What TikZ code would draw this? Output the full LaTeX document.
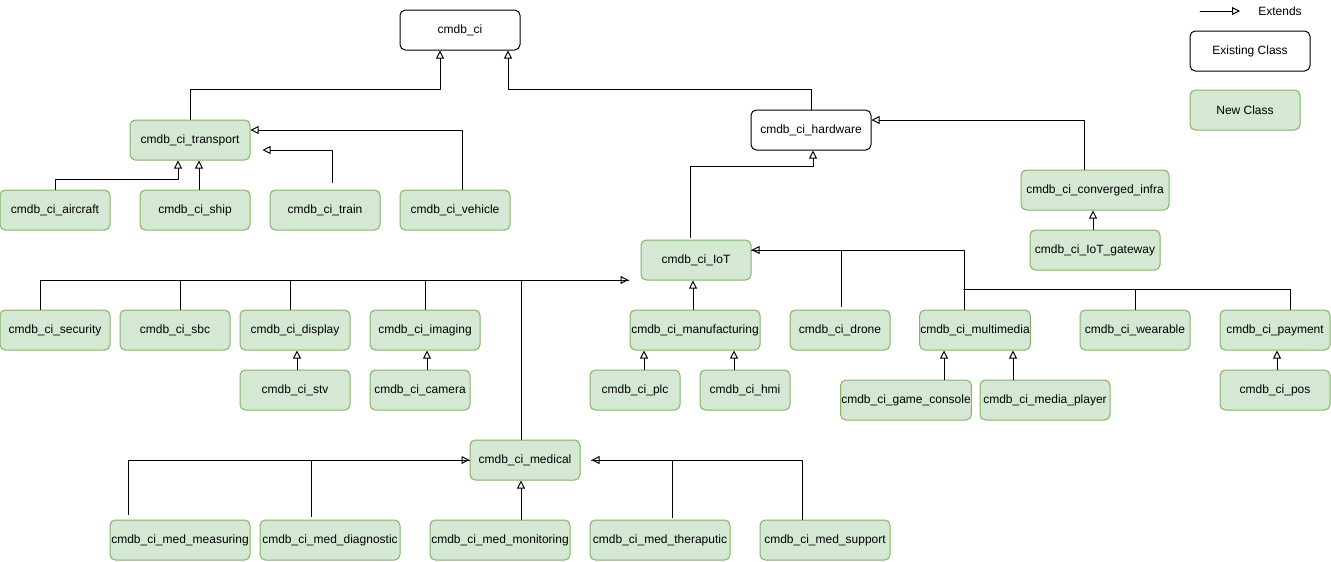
\documentclass[tikz,border=0pt]{standalone}
\usepackage{fontspec}
\setmainfont{Liberation Sans}
\usetikzlibrary{calc,arrows.meta}
\definecolor{newfill}{RGB}{213,232,212}
\definecolor{newdraw}{RGB}{130,179,102}
\tikzset{
    lab/.style={
        font=\fontsize{9}{11}\selectfont
    }
}

\begin{document}
\begin{tikzpicture}[x=0.75pt,y=-0.75pt, line cap=round, line join=round]

\tikzset{
  main/.style={draw=black, line width=0.75pt},
  ext/.style={main, -{Triangle[open, length=6pt, width=6pt]}},
  oldcls/.style={lab, rectangle, rounded corners=4pt, draw=black, fill=white, line width=0.75pt, minimum height=30pt, inner sep=0.5pt},
  newcls/.style={oldcls, draw=newdraw, fill=newfill},
  wd/.style={minimum width=#1*0.75pt},
}

\useasboundingbox (0,0) rectangle (1331,561);

% existing classes
\node[oldcls, wd=120] (ci) at (460,30) {cmdb\_ci};
\node[oldcls, wd=120] (hw) at (811,130) {cmdb\_ci\_hardware};

% transport branch
\node[newcls, wd=120] (transport) at (190,140) {cmdb\_ci\_transport};
\node[newcls, wd=110] (aircraft) at (55,210) {cmdb\_ci\_aircraft};
\node[newcls, wd=110] (ship) at (195,210) {cmdb\_ci\_ship};
\node[newcls, wd=110] (train) at (325,210) {cmdb\_ci\_train};
\node[newcls, wd=110] (vehicle) at (455,210) {cmdb\_ci\_vehicle};

% hardware branch
\node[newcls, wd=148] (conv) at (1095,190) {cmdb\_ci\_converged\_infra};
\node[newcls, wd=130] (gw) at (1095,250) {cmdb\_ci\_IoT\_gateway};
\node[newcls, wd=110] (iot) at (696,260) {cmdb\_ci\_IoT};

% IoT children
\node[newcls, wd=110] (sec) at (55,330) {cmdb\_ci\_security};
\node[newcls, wd=110] (sbc) at (175,330) {cmdb\_ci\_sbc};
\node[newcls, wd=110] (disp) at (295,330) {cmdb\_ci\_display};
\node[newcls, wd=110] (imag) at (425,330) {cmdb\_ci\_imaging};
\node[newcls, wd=130] (manuf) at (695,330) {cmdb\_ci\_manufacturing};
\node[newcls, wd=100] (drone) at (840,330) {cmdb\_ci\_drone};
\node[newcls, wd=110] (mm) at (975,330) {cmdb\_ci\_multimedia};
\node[newcls, wd=110] (wear) at (1135,330) {cmdb\_ci\_wearable};
\node[newcls, wd=110] (pay) at (1275,330) {cmdb\_ci\_payment};

% third level
\node[newcls, wd=110] (stv) at (295,390) {cmdb\_ci\_stv};
\node[newcls, wd=100] (cam) at (420,390) {cmdb\_ci\_camera};
\node[newcls, wd=90] (plc) at (635,390) {cmdb\_ci\_plc};
\node[newcls, wd=90] (hmi) at (745,390) {cmdb\_ci\_hmi};
\node[newcls, wd=130] (game) at (906,400) {cmdb\_ci\_game\_console};
\node[newcls, wd=130] (media) at (1045,400) {cmdb\_ci\_media\_player};
\node[newcls, wd=110] (pos) at (1275,390) {cmdb\_ci\_pos};

% medical
\node[newcls, wd=110] (med) at (525,460) {cmdb\_ci\_medical};
\node[newcls, wd=140] (meas) at (180,540) {cmdb\_ci\_med\_measuring};
\node[newcls, wd=140] (diag) at (330,540) {cmdb\_ci\_med\_diagnostic};
\node[newcls, wd=140] (mon) at (500,540) {cmdb\_ci\_med\_monitoring};
\node[newcls, wd=140] (ther) at (660,540) {cmdb\_ci\_med\_theraputic};
\node[newcls, wd=130] (sup) at (825,540) {cmdb\_ci\_med\_support};

% legend
\node[lab] (lgext) at (1280,11) {Extends};
\coordinate (lga) at (1200,11);
\coordinate (lgb) at (1240,11);
\node[oldcls, wd=120] (lgold) at (1250,51) {Existing Class};
\node[newcls, wd=110] (lgnew) at (1245,110) {New Class};
\draw[ext] (lga) -- (lgb);

% edges to cmdb_ci
\draw[ext] (transport.north) -- ++(0,-30) -| ($(ci.south)+(-20,0)$);
\draw[ext] (hw.north) -- ++(0,-20) -| ($(ci.south)+(48,0)$);

% edges to transport
\draw[ext] (aircraft.north) -- ++(0,-10) -| ($(transport.south)+(-12,0)$);
\draw[ext] ($(ship.north)+(4,0)$) -- ($(transport.south)+(9,0)$);
\draw[ext] ($(train.north)+(7,-7)$) |- ($(transport.east)+(12,10)$);
\draw[ext] ($(vehicle.north)+(7,0)$) |- ($(transport.east)+(0,-10)$);

% edges to hardware
\draw[ext] ($(iot.north)+(-6,-2)$) -- ++(0,-71) -| ($(hw.south)+(2,0)$);
\draw[ext] ($(conv.north)+(-11,0)$) |- ($(hw.east)+(0,-10)$);
\draw[ext] ($(gw.north)+(-2,0)$) -- ($(conv.south)+(-2,0)$);

% edges to IoT, left bus
\coordinate (iotin) at ($(iot.west)+(-12,20)$);
\draw[ext] ($(sec.north)+(-15,0)$) |- (iotin);
\draw[main] ($(sbc.north)+(5,0)$) |- (iotin);
\draw[main] ($(disp.north)+(-5,0)$) |- (iotin);
\draw[main] (imag.north) |- (iotin);
\draw[main] ($(med.north)+(-4,0)$) |- (iotin);

% edges to IoT, right bus
\coordinate (iotout) at ($(iot.east)+(0,-10)$);
\coordinate (mmbus) at ($(mm.north)+(-11,-20)$);
\draw[ext] ($(mm.north)+(-11,0)$) |- (iotout);
\draw[main] ($(drone.north)+(1,-3)$) |- (iotout);
\draw[main] (wear.north) |- (mmbus);
\draw[main] ($(pay.north)+(15,0)$) |- (mmbus);
\draw[ext] ($(manuf.north)+(-2,0)$) -- ($(iot.south)+(-3,0)$);

% third level edges
\draw[ext] ($(stv.north)+(2,0)$) -- ($(disp.south)+(2,0)$);
\draw[ext] ($(cam.north)+(7,0)$) -- ($(imag.south)+(2,0)$);
\draw[ext] ($(plc.north)+(9,0)$) -- ($(manuf.south)+(-51,0)$);
\draw[ext] ($(hmi.north)+(-11,0)$) -- ($(manuf.south)+(39,0)$);
\draw[ext] ($(game.north)+(38,0)$) -- ($(mm.south)+(-31,0)$);
\draw[ext] ($(media.north)+(-32,0)$) -- ($(mm.south)+(38,0)$);
\draw[ext] ($(pos.north)+(2,0)$) -- ($(pay.south)+(2,0)$);

% edges to medical
\coordinate (medin) at ($(med.east)+(11,0)$);
\draw[ext] ($(meas.north)+(-52,-5)$) |- (med.west);
\draw[main] ($(diag.north)+(-19,-3)$) |- (med.west);
\draw[ext] ($(sup.north)+(-23,0)$) |- (medin);
\draw[main] ($(ther.north)+(12,-2)$) |- (medin);
\draw[ext] ($(mon.north)+(21,0)$) -- ($(med.south)+(-4,0)$);

\end{tikzpicture}
\end{document}
